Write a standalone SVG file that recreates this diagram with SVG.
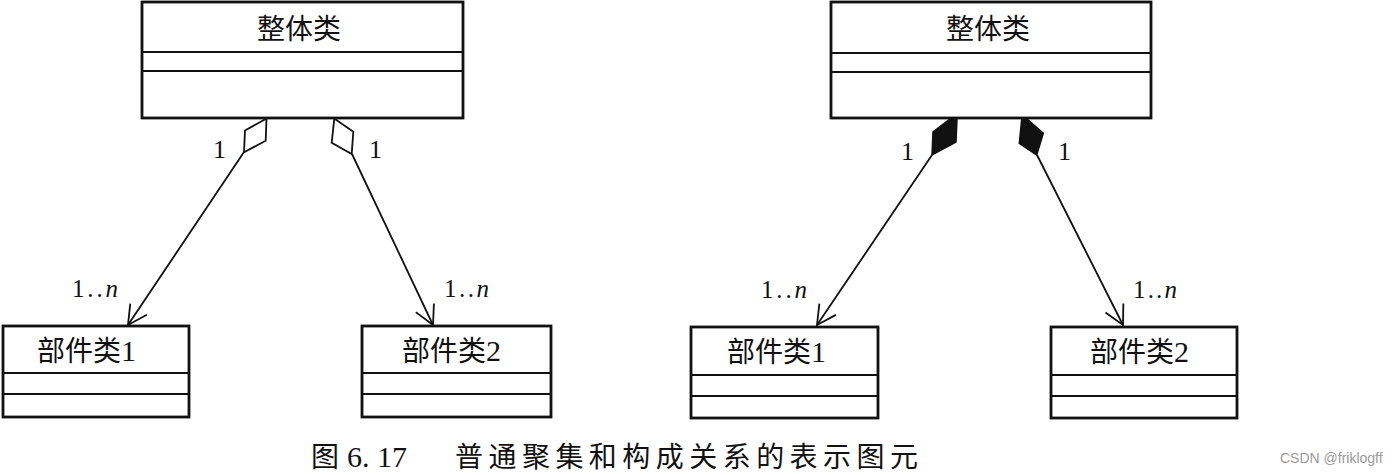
<svg xmlns="http://www.w3.org/2000/svg" width="1400" height="475" viewBox="0 0 1400 475">
<defs>
<style>
.box{fill:#fff;stroke:#111;stroke-width:2.8}
.div{stroke:#111;stroke-width:2}
.cn{font-family:"Noto Sans CJK SC","Noto Sans",sans-serif;font-size:28px;fill:#111}
.ser{font-family:"Liberation Serif",serif;fill:#111}
.edge{stroke:#111;stroke-width:1.8;fill:none}
.agg{fill:#fff;stroke:#111;stroke-width:1.8;stroke-linejoin:miter}
.comp{fill:#111;stroke:#111;stroke-width:1.5}
.mul{font-family:"Liberation Serif",serif;font-size:25px;fill:#111}
</style>
<marker id="open" markerUnits="userSpaceOnUse" viewBox="-22 -12 24 24" refX="0" refY="0" markerWidth="24" markerHeight="24" orient="auto">
<path d="M-19,-10 L0,0 L-19,10" fill="none" stroke="#111" stroke-width="1.8"/>
</marker>
</defs>
<rect width="1400" height="475" fill="#fff"/>

<g id="whole1">
<rect class="box" x="142" y="2" width="321" height="116"/>
<line class="div" x1="142" y1="52" x2="463" y2="52"/>
<line class="div" x1="142" y1="71" x2="463" y2="71"/>
<text class="cn" x="299" y="39" text-anchor="middle" font-size="29">整体类</text>
</g>
<g id="part1a">
<rect class="box" x="3" y="326" width="186" height="91"/>
<line class="div" x1="3" y1="373" x2="189" y2="373"/>
<line class="div" x1="3" y1="394" x2="189" y2="394"/>
<text class="cn" x="37" y="361">部件类<tspan class="ser" font-size="30">1</tspan></text>
</g>
<g id="part2a">
<rect class="box" x="362" y="326" width="189" height="91"/>
<line class="div" x1="362" y1="373" x2="551" y2="373"/>
<line class="div" x1="362" y1="394" x2="551" y2="394"/>
<text class="cn" x="402" y="361">部件类<tspan class="ser" font-size="30">2</tspan></text>
</g>

<g id="whole2">
<rect class="box" x="831" y="2" width="320" height="116"/>
<line class="div" x1="831" y1="53" x2="1151" y2="53"/>
<line class="div" x1="831" y1="72" x2="1151" y2="72"/>
<text class="cn" x="988" y="39" text-anchor="middle" font-size="29">整体类</text>
</g>
<g id="part1b">
<rect class="box" x="691" y="327" width="187" height="91"/>
<line class="div" x1="691" y1="375" x2="878" y2="375"/>
<line class="div" x1="691" y1="396" x2="878" y2="396"/>
<text class="cn" x="727" y="362">部件类<tspan class="ser" font-size="30">1</tspan></text>
</g>
<g id="part2b">
<rect class="box" x="1051" y="327" width="186" height="91"/>
<line class="div" x1="1051" y1="375" x2="1237" y2="375"/>
<line class="div" x1="1051" y1="396" x2="1237" y2="396"/>
<text class="cn" x="1090" y="362">部件类<tspan class="ser" font-size="30">2</tspan></text>
</g>

<g id="connectors">
<line class="edge" x1="244" y1="152" x2="128" y2="325" marker-end="url(#open)"/>
<polygon class="agg" points="266.5,118.5 265.7,140.7 244,152.3 245,130.5"/>
<line class="edge" x1="352" y1="154" x2="433" y2="325" marker-end="url(#open)"/>
<polygon class="agg" points="334.3,118.5 331.7,142.7 351.7,154 353.3,131.7"/>

<line class="edge" x1="932" y1="155" x2="817" y2="325" marker-end="url(#open)"/>
<polygon class="comp" points="950,119 957,119 956,142 932,155 933,132"/>
<line class="edge" x1="1037" y1="155" x2="1123" y2="325" marker-end="url(#open)"/>
<polygon class="comp" points="1021.7,119 1027,119 1043.3,133.3 1036.7,155 1019.3,143.3"/>

<text class="ser" font-size="26" x="213" y="158">1</text>
<text class="ser" font-size="26" x="369" y="158">1</text>
<text class="ser" font-size="26" x="901" y="160">1</text>
<text class="ser" font-size="26" x="1058" y="160">1</text>

<text class="mul" x="72" y="297" textLength="46" lengthAdjust="spacing">1..<tspan font-style="italic">n</tspan></text>
<text class="mul" x="444" y="297" textLength="45" lengthAdjust="spacing">1..<tspan font-style="italic">n</tspan></text>
<text class="mul" x="761" y="298" textLength="46" lengthAdjust="spacing">1..<tspan font-style="italic">n</tspan></text>
<text class="mul" x="1133" y="298" textLength="44" lengthAdjust="spacing">1..<tspan font-style="italic">n</tspan></text>
</g>

<g id="caption">
<text class="cn" x="311" y="467" font-size="29">图</text>
<text class="ser" font-size="30" x="347" y="467">6. 17</text>
<text class="cn" x="455" y="467" font-size="30" textLength="463" lengthAdjust="spacing">普通聚集和构成关系的表示图元</text>
</g>
<text x="1280" y="463" font-family="Liberation Sans,sans-serif" font-size="14" fill="#9a9a9a">CSDN @friklogff</text>
</svg>
